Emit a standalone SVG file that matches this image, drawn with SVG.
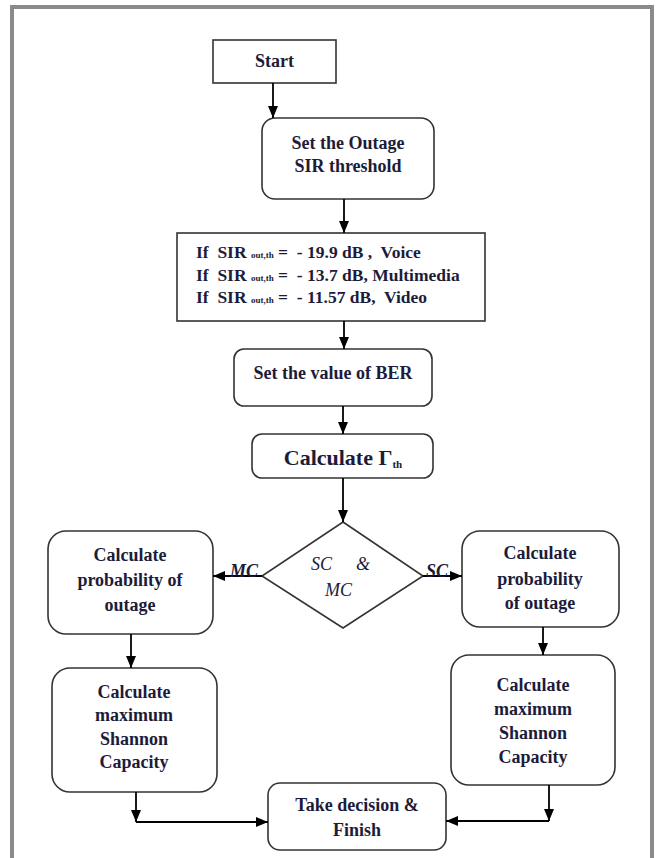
<svg xmlns="http://www.w3.org/2000/svg" width="658" height="858" viewBox="0 0 658 858">
<defs>
<marker id="ah" viewBox="0 0 12 10" refX="12" refY="5" markerWidth="12" markerHeight="10" markerUnits="userSpaceOnUse" orient="auto">
<path d="M0,0 L12,5 L0,10 z" fill="#000"/>
</marker>
<style>
.box{fill:#fff;stroke:#333;stroke-width:1.6}
.t{font-family:"Liberation Serif","Times New Roman",serif;font-weight:bold;font-size:18px;fill:#1c1c3a;text-anchor:middle}
.s{font-family:"Liberation Serif","Times New Roman",serif;font-weight:bold;font-size:17.5px;fill:#1c1c3a}
.sub{font-size:9px}
.i{font-family:"Liberation Serif","Times New Roman",serif;font-style:italic;font-size:18px;fill:#1c1c3a}
.c{stroke:#000;stroke-width:1.8;fill:none}
</style>
</defs>
<rect x="12" y="7" width="640" height="870" fill="#fff" stroke="#8a8a8a" stroke-width="4"/>

<g id="start">
<rect class="box" x="213" y="40" width="123" height="43"/>
<text class="t" x="274.5" y="67">Start</text>
</g>
<g id="outage">
<rect class="box" x="262" y="118" width="172" height="81" rx="13"/>
<text class="t" x="348" y="149">Set the Outage</text>
<text class="t" x="348" y="172">SIR threshold</text>
</g>
<g id="sir">
<rect class="box" x="177" y="233" width="308" height="88"/>
<text class="s" x="196" y="258" xml:space="preserve">If  SIR <tspan class="sub">out,th</tspan> =  - 19.9 dB ,  Voice</text>
<text class="s" x="196" y="281" xml:space="preserve">If  SIR <tspan class="sub">out,th</tspan> =  - 13.7 dB, Multimedia</text>
<text class="s" x="196" y="303" xml:space="preserve">If  SIR <tspan class="sub">out,th</tspan> =  - 11.57 dB,  Video</text>
</g>
<g id="ber">
<rect class="box" x="234" y="349" width="198" height="57" rx="10"/>
<text class="t" x="333" y="379">Set the value of BER</text>
</g>
<g id="gamma">
<rect class="box" x="252" y="434" width="181" height="44" rx="10"/>
<text class="t" x="343" y="465" style="font-size:22px">Calculate Γ<tspan style="font-size:11px" dy="3">th</tspan></text>
</g>
<g id="decision">
<polygon class="box" points="343,522 423,576 343,628 262,576"/>
<text class="i" x="311" y="570">SC</text>
<text class="i" x="356" y="570">&amp;</text>
<text class="i" x="325" y="596">MC</text>
</g>
<g id="mc-prob">
<rect class="box" x="48" y="531" width="165" height="103" rx="18"/>
<text class="t" x="130" y="561">Calculate</text>
<text class="t" x="130" y="586">probability of</text>
<text class="t" x="130" y="611">outage</text>
</g>
<g id="sc-prob">
<rect class="box" x="462" y="531" width="157" height="96" rx="18"/>
<text class="t" x="540" y="559">Calculate</text>
<text class="t" x="540" y="585">probability</text>
<text class="t" x="540" y="609">of outage</text>
</g>
<g id="mc-cap">
<rect class="box" x="52" y="668" width="165" height="124" rx="18"/>
<text class="t" x="134" y="698">Calculate</text>
<text class="t" x="134" y="721">maximum</text>
<text class="t" x="134" y="745">Shannon</text>
<text class="t" x="134" y="768">Capacity</text>
</g>
<g id="sc-cap">
<rect class="box" x="451" y="655" width="164" height="130" rx="18"/>
<text class="t" x="533" y="691">Calculate</text>
<text class="t" x="533" y="715">maximum</text>
<text class="t" x="533" y="739">Shannon</text>
<text class="t" x="533" y="763">Capacity</text>
</g>
<g id="finish">
<rect class="box" x="268" y="783" width="178" height="67" rx="12"/>
<text class="t" x="357" y="811">Take decision &amp;</text>
<text class="t" x="357" y="836">Finish</text>
</g>

<g id="connectors">
<line class="c" x1="273" y1="83" x2="273" y2="118" marker-end="url(#ah)"/>
<line class="c" x1="344" y1="199" x2="344" y2="233" marker-end="url(#ah)"/>
<line class="c" x1="344" y1="321" x2="344" y2="349" marker-end="url(#ah)"/>
<line class="c" x1="343" y1="406" x2="343" y2="434" marker-end="url(#ah)"/>
<line class="c" x1="343" y1="478" x2="343" y2="522" marker-end="url(#ah)"/>
<line class="c" x1="262" y1="576" x2="213" y2="576" marker-end="url(#ah)"/>
<line class="c" x1="423" y1="576" x2="462" y2="576" marker-end="url(#ah)"/>
<line class="c" x1="131" y1="634" x2="131" y2="668" marker-end="url(#ah)"/>
<line class="c" x1="543" y1="627" x2="543" y2="655" marker-end="url(#ah)"/>
<line class="c" x1="136" y1="792" x2="136" y2="822" marker-end="url(#ah)"/>
<line class="c" x1="136" y1="822" x2="268" y2="822" marker-end="url(#ah)"/>
<line class="c" x1="549" y1="785" x2="549" y2="821" marker-end="url(#ah)"/>
<line class="c" x1="549" y1="821" x2="446" y2="821" marker-end="url(#ah)"/>
<text class="i" x="230" y="577" style="font-weight:bold">MC</text>
<text class="i" x="426" y="577" style="font-weight:bold">SC</text>
</g>
</svg>
